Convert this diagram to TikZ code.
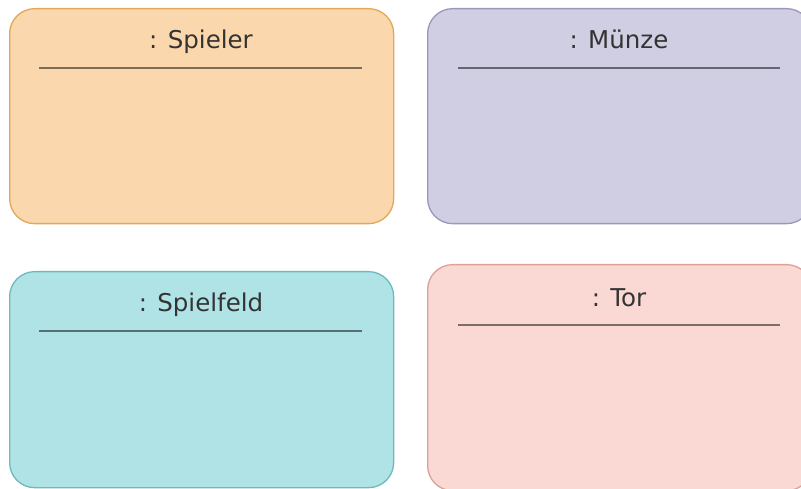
\documentclass[tikz,border=0pt]{standalone}
\usepackage{fontspec}
\setmainfont{DejaVu Sans}
\definecolor{spfill}{HTML}{FAD7AC}\definecolor{spdraw}{HTML}{E2A85A}
\definecolor{mzfill}{HTML}{D0CEE2}\definecolor{mzdraw}{HTML}{9A96BC}
\definecolor{sffill}{HTML}{B0E3E6}\definecolor{sfdraw}{HTML}{6CBABF}
\definecolor{tofill}{HTML}{FAD9D5}\definecolor{todraw}{HTML}{DDA098}
\definecolor{txt}{HTML}{333333}
\begin{document}
\begin{tikzpicture}[x=1pt,y=-1pt,
  objbox/.style={draw=#1draw,fill=#1fill,line width=1.3pt,rounded corners=25pt,
    anchor=north west,minimum width=384pt,minimum height=215pt,inner sep=0pt},
  title/.style={font=\fontsize{24.5}{29}\selectfont,text=txt,inner sep=0pt,anchor=base},
  divider/.style={draw=black,draw opacity=0.5,line width=2pt}]
\useasboundingbox (0,0) rectangle (801,489);
\clip (0,0) rectangle (801,489);
\node[objbox=sp] (spieler) at (9,8) {};
\node[objbox=mz] (muenze) at (427,8) {};
\node[objbox=sf,minimum height=216pt] (spielfeld) at (9,271) {};
\node[objbox=to,minimum height=226pt] (tor) at (427,264) {};
\node[title] (tsp) at (201,49) {: Spieler};
\node[title] (tmz) at (619,49) {: Münze};
\node[title] (tsf) at (201,312) {: Spielfeld};
\node[title] (tto) at (619,306) {: Tor};
\draw[divider] (39,68) -- (362,68);
\draw[divider] (458,68) -- (780,68);
\draw[divider] (39,331) -- (362,331);
\draw[divider] (458,325) -- (780,325);
\end{tikzpicture}
\end{document}
